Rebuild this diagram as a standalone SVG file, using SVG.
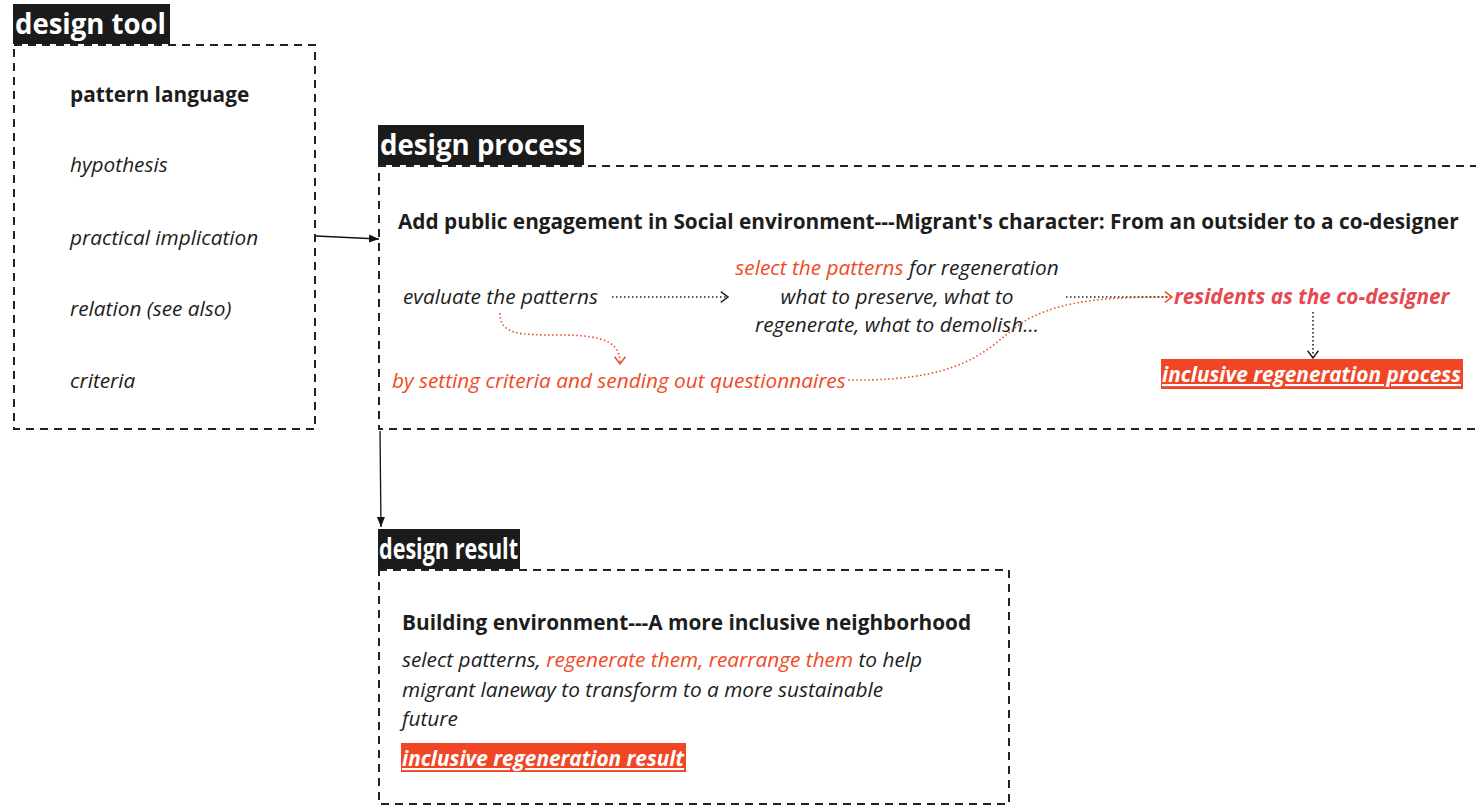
<svg xmlns="http://www.w3.org/2000/svg" width="1476" height="806" viewBox="0 0 1476 806">
<defs>
<style>
text{font-family:"Open Sans","Noto Sans","Liberation Sans",sans-serif;fill:#1d1d1d}
.lbl{font-size:28px;font-weight:700;fill:#fff}
.lblbg{fill:#1b1b1b}
.box{fill:none;stroke:#222;stroke-width:2;stroke-dasharray:8 6}
.b{font-weight:700;font-size:20.8px}
.i{font-style:italic;font-size:20.8px}
.red{fill:#f04a24}
.pink{fill:#e5484f}
.tag{fill:#f04626}
.tagt{font-style:italic;font-weight:700;font-size:21px;fill:#fff;text-decoration:underline}
.solid{stroke:#111;stroke-width:1.3;fill:none}
.dotk{stroke:#222;stroke-width:1.6;fill:none;stroke-dasharray:1.5 2.5}
.dotr{stroke:#f04a24;stroke-width:1.6;fill:none;stroke-dasharray:1.5 2.5}
</style>
<marker id="ah" viewBox="0 0 10 10" refX="10" refY="5" markerWidth="10" markerHeight="10" markerUnits="userSpaceOnUse" orient="auto"><path d="M0,1 L10,5 L0,9 Z" fill="#111"/></marker>
<marker id="ck" viewBox="0 0 10 14" refX="9" refY="7" markerWidth="9" markerHeight="13" markerUnits="userSpaceOnUse" orient="auto"><path d="M1,1 L9,7 L1,13" fill="none" stroke="#222" stroke-width="1.6"/></marker>
<marker id="cr" viewBox="0 0 10 14" refX="9" refY="7" markerWidth="9" markerHeight="13" markerUnits="userSpaceOnUse" orient="auto"><path d="M1,1 L9,7 L1,13" fill="none" stroke="#f04a24" stroke-width="1.6"/></marker>
</defs>
<rect width="1476" height="806" fill="#fff"/>

<g id="design-tool">
<rect class="lblbg" x="13" y="4" width="157" height="40"/>
<text class="lbl" x="15" y="34" textLength="151" lengthAdjust="spacingAndGlyphs">design tool</text>
<rect class="box" x="14" y="45" width="301" height="384"/>
<text class="b" x="70" y="102">pattern language</text>
<text class="i" x="70" y="172">hypothesis</text>
<text class="i" x="70" y="245">practical implication</text>
<text class="i" x="70" y="316">relation (see also)</text>
<text class="i" x="70" y="388">criteria</text>
</g>

<g id="design-process">
<rect class="lblbg" x="378" y="125" width="206" height="40"/>
<text class="lbl" x="380" y="155" textLength="202" lengthAdjust="spacingAndGlyphs">design process</text>
<path class="box" d="M1478,166 H379 V429 H1478"/>
<text class="b" x="398" y="229">Add public engagement in Social environment---Migrant's character: From an outsider to a co-designer</text>
<text class="i" x="403" y="304">evaluate the patterns</text>
<text class="i" x="897" y="275" text-anchor="middle"><tspan class="red">select the patterns</tspan> for regeneration</text>
<text class="i" x="897" y="304" text-anchor="middle">what to preserve, what to</text>
<text class="i" x="897" y="332" text-anchor="middle">regenerate, what to demolish...</text>
<text class="i red" x="392" y="388">by setting criteria and sending out questionnaires</text>
<text class="pink" x="1174" y="304" style="font-style:italic;font-weight:700;font-size:20.8px">residents as the co-designer</text>
<rect class="tag" x="1161" y="359" width="302" height="30"/>
<text class="tagt" x="1162" y="382" textLength="299" lengthAdjust="spacingAndGlyphs">inclusive regeneration process</text>
</g>

<g id="design-result">
<rect class="lblbg" x="378" y="529" width="142" height="40"/>
<text class="lbl" x="379" y="559" textLength="139" lengthAdjust="spacingAndGlyphs">design result</text>
<rect class="box" x="379" y="570" width="630" height="234"/>
<text class="b" x="402" y="630">Building environment---A more inclusive neighborhood</text>
<text class="i" x="402" y="667">select patterns, <tspan class="red">regenerate them, rearrange them</tspan> to help</text>
<text class="i" x="402" y="697">migrant laneway to transform to a more sustainable</text>
<text class="i" x="402" y="726">future</text>
<rect class="tag" x="401" y="743" width="285" height="29"/>
<text class="tagt" x="402" y="766" textLength="282" lengthAdjust="spacingAndGlyphs">inclusive regeneration result</text>
</g>

<g id="connectors">
<path class="solid" d="M316,236 L379,239" marker-end="url(#ah)"/>
<path class="solid" d="M380,431 L381,527" marker-end="url(#ah)"/>
<path class="dotk" d="M612,297 H728" marker-end="url(#ck)"/>
<path class="dotk" d="M1066,297 H1168"/>
<path class="dotr" d="M848,380 C980,382 990,340 1030,318 C1070,298 1120,297 1172,297" marker-end="url(#cr)"/>
<path class="dotr" d="M500,313 C500,335 520,335 560,335 C610,335 620,345 620,364" marker-end="url(#cr)"/>
<path class="dotk" d="M1313,312 V358" marker-end="url(#ck)"/>
</g>
</svg>
